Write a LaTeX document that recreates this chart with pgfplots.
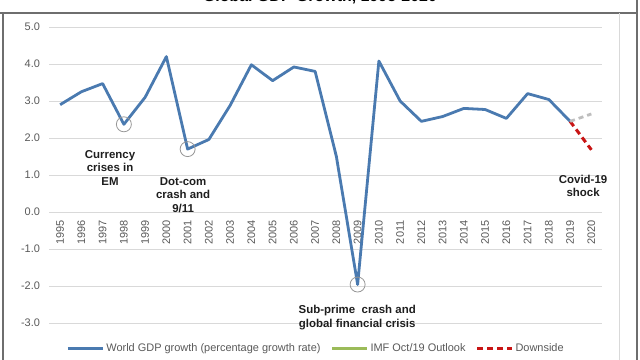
\documentclass[border=0pt]{standalone}
\usepackage{fontspec}
\setmainfont{Liberation Sans}
\usepackage{pgfplots}
\pgfplotsset{compat=1.18}
\definecolor{gdpblue}{RGB}{74,122,176}
\definecolor{gridgray}{RGB}{217,217,217}
\definecolor{txtgray}{RGB}{89,89,89}
\definecolor{imfgreen}{RGB}{155,187,89}
\definecolor{downred}{RGB}{200,20,20}
\definecolor{projgray}{RGB}{190,190,190}
\definecolor{framegray}{RGB}{110,110,110}
\definecolor{circgray}{RGB}{150,150,150}
\definecolor{annot}{RGB}{30,30,30}
\begin{document}
\begin{tikzpicture}[x=1bp,y=1bp]
\begin{axis}[
  at={(49.5bp,37bp)}, anchor=south west, scale only axis,
  width=552.5bp, height=296bp,
  xmin=1994.5, xmax=2020.5, ymin=-3, ymax=5,
  clip=false,
  axis x line=middle, axis y line=left,
  x axis line style={draw=gridgray, line width=0.8bp, -},
  y axis line style={draw=none},
  ymajorgrids, grid style={gridgray, line width=0.8bp},
  ytick={-3,-2,-1,0,1,2,3,4,5},
  xtick={1995,1996,...,2020},
  major tick length=0pt,
  hide obscured x ticks=false, hide obscured y ticks=false,
  /pgf/number format/assume math mode=true,
  /pgf/number format/1000 sep={},
  ticklabel style={font=\fontsize{11}{13}\selectfont, text=txtgray},
  y tick label style={/pgf/number format/.cd, fixed, fixed zerofill, precision=1, /tikz/.cd, xshift=-6bp},
  x tick label style={rotate=90, anchor=east},
  xticklabel={\pgfmathprintnumber{\tick}\hspace*{5bp}},
  legend columns=3,
  legend style={draw=none, fill=none, at={(0.4824,-0.0845)}, anchor=center,
    font=\fontsize{11}{13}\selectfont, text=txtgray,
    /tikz/every even column/.append style={column sep=8bp},
    nodes={inner sep=2bp}},
  legend image code/.code={\draw[#1, line width=3bp] (0bp,0bp) -- (35bp,0bp);},
]
\addplot[gdpblue, line width=2.8bp, line join=round] coordinates {
 (1995,2.90) (1996,3.25) (1997,3.47) (1998,2.37) (1999,3.10) (2000,4.20)
 (2001,1.70) (2002,1.96) (2003,2.88) (2004,3.98) (2005,3.55) (2006,3.92)
 (2007,3.80) (2008,1.50) (2009,-1.96) (2010,4.08) (2011,3.00) (2012,2.45)
 (2013,2.58) (2014,2.80) (2015,2.77) (2016,2.53) (2017,3.20) (2018,3.04)
 (2019,2.45)};
\addlegendentry{World GDP growth (percentage growth rate)}
\addlegendimage{imfgreen}
\addlegendentry{IMF Oct/19 Outlook}
\addplot[downred, line width=3bp, dash pattern=on 6bp off 4bp] coordinates {(2019,2.45) (2020,1.68)};
\addlegendentry{Downside}
\addplot[projgray, line width=2.8bp, dash pattern=on 5bp off 4bp, forget plot] coordinates {(2019,2.45) (2020,2.65)};
\addplot[only marks, mark=o, mark size=7.5bp, mark options={draw=circgray, line width=0.8bp}, forget plot] coordinates {(1998,2.37) (2001,1.70) (2009,-1.96)};
\node[align=center, font=\bfseries\fontsize{11.5}{13.5}\selectfont, text=annot] at (axis cs:1997.35,1.19) {Currency\\crises in\\EM};
\node[align=center, font=\bfseries\fontsize{11.5}{13.5}\selectfont, text=annot] at (axis cs:2000.79,0.46) {Dot-com\\crash and\\9/11};
\node[align=center, font=\bfseries\fontsize{11.5}{13.5}\selectfont, text=annot] at (axis cs:2008.98,-2.85) {Sub-prime\ \ crash and\\global financial crisis};
\node[align=center, font=\bfseries\fontsize{11.5}{13.5}\selectfont, text=annot] at (axis cs:2019.61,0.70) {Covid-19\\shock};
\end{axis}
\node[font=\bfseries\fontsize{16}{19}\selectfont, anchor=base] at (320bp,358.5bp) {Global GDP Growth, 1995-2020};
\draw[framegray, line width=1.5bp] (0bp,347bp) -- (637bp,347bp);
\draw[framegray, line width=1.5bp] (3bp,0bp) -- (3bp,347bp);
\draw[framegray, line width=1.5bp] (637bp,0bp) -- (637bp,360bp);
\draw[gridgray, line width=0.8bp] (619bp,0bp) -- (619bp,347bp);
\pgfresetboundingbox
\path[use as bounding box] (0bp,0bp) rectangle (640bp,360bp);
\end{tikzpicture}
\end{document}
